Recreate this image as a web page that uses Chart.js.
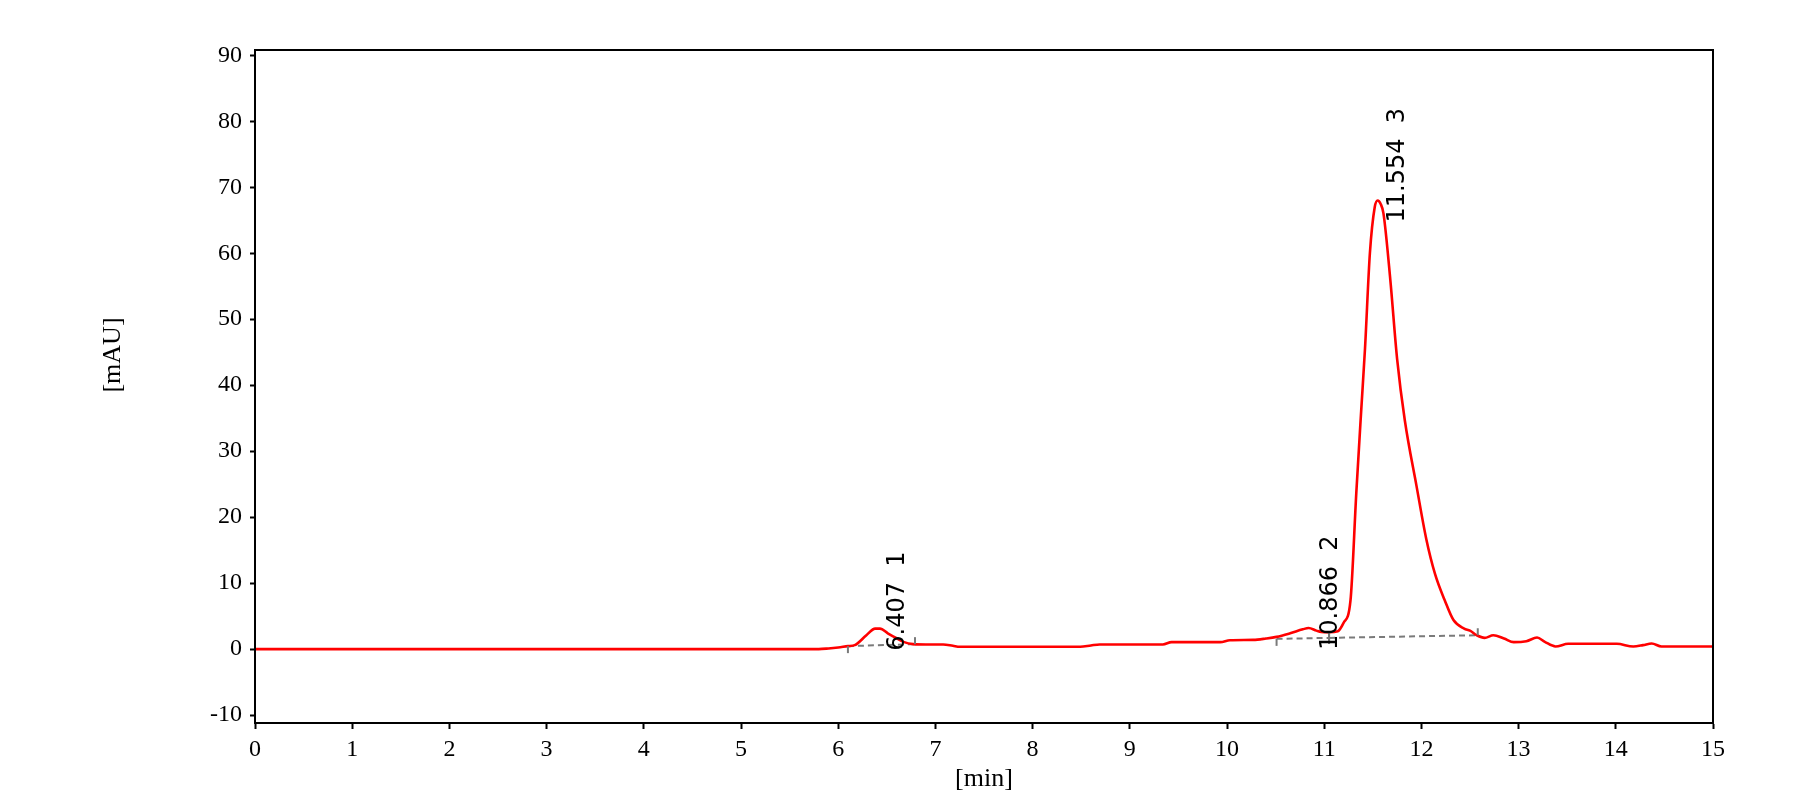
<!DOCTYPE html>
<html>
<head>
<meta charset="utf-8">
<title>HPLC chromatogram</title>
<script src="https://cdn.jsdelivr.net/npm/chart.js@4.4.1/dist/chart.umd.min.js"></script>
<style>
    html, body { margin: 0; padding: 0; background: #ffffff; }
    #wrap { width: 1812px; height: 805px; position: relative; }
</style>
</head>
<body>
<div id="wrap"><canvas id="chromChart" width="1812" height="805"></canvas></div>
<script>
const retentionTimes = [
    0, 5.8, 5.9, 6.0, 6.1, 6.17, 6.29, 6.38, 6.43, 6.51, 6.6, 6.67, 6.77, 6.9, 7.08, 7.18, 7.25,
    7.7, 8.49, 8.6, 8.69, 9.34, 9.43, 9.93, 10.03, 10.27, 10.4, 10.51, 10.65, 10.78, 10.84,
    10.92, 10.97, 11.05, 11.14, 11.2, 11.27, 11.33, 11.38, 11.42, 11.47, 11.52, 11.55, 11.58,
    11.61, 11.68, 11.75, 11.83, 11.95, 12.05, 12.14, 12.24, 12.33, 12.44, 12.5, 12.57, 12.65,
    12.74, 12.85, 12.95, 13.08, 13.19, 13.27, 13.38, 13.51, 14.01, 14.18, 14.28, 14.37, 14.47, 15
];
const signal = [
    0, 0, 0.1, 0.25, 0.45, 0.6, 2.1, 3.1, 3.1, 2.4, 1.65, 1.1, 0.75, 0.7, 0.7, 0.5, 0.35,
    0.35, 0.35, 0.55, 0.7, 0.7, 1.05, 1.05, 1.35, 1.4, 1.6, 1.85, 2.4, 3.0, 3.2,
    2.8, 2.6, 2.55, 2.7, 4.0, 7.3, 23.6, 36, 45.6, 60, 67, 68, 67.5,
    66, 56, 44, 34.6, 24.7, 16.7, 11.4, 7.4, 4.4, 3.1, 2.8, 2.1, 1.7,
    2.1, 1.6, 1.05, 1.2, 1.75, 1.1, 0.4, 0.8, 0.8, 0.4, 0.6, 0.85, 0.4, 0.4
];

// Picos integrados
const peakTimes = [6.407, 10.866, 11.554];
const peakHeights = [3.1, 3.2, 68.0];
const peakLabels = ['6.407  1', '10.866  2', '11.554  3'];

// Líneas base de integración (inicio/fin)
const baselineTimes = [[6.10, 6.79], [10.51, 11.05], [11.05, 12.58]];
const baselineValues = [[0.45, 0.75], [1.55, 1.7], [1.7, 2.1]];
const baselineTickDir = [[1, -1], [1, 0], [0, -1]]; // 1 = hacia abajo, -1 = hacia arriba, 0 = ambos

// Marcas de los ejes
const xTicks = [0, 1, 2, 3, 4, 5, 6, 7, 8, 9, 10, 11, 12, 13, 14, 15];
const yTicks = [-10, 0, 10, 20, 30, 40, 50, 60, 70, 80, 90];

const serif = '"Liberation Serif", "Times New Roman", serif';
const sans = '"DejaVu Sans", Verdana, sans-serif';

document.addEventListener('DOMContentLoaded', function() {
    initChart();
});

function initChart() {
    const ctx = document.getElementById('chromChart').getContext('2d');

    const datasets = [{
        label: 'Señal',
        data: retentionTimes.map((t, i) => ({ x: t, y: signal[i] })),
        borderColor: '#ff0000',
        borderWidth: 2.6,
        pointRadius: 0,
        cubicInterpolationMode: 'monotone',
        fill: false,
        order: 0
    }];

    baselineTimes.forEach((seg, i) => {
        datasets.push({
            label: 'Base ' + (i + 1),
            data: seg.map((t, j) => ({ x: t, y: baselineValues[i][j] })),
            borderColor: '#7a7a7a',
            borderWidth: 2,
            borderDash: [6, 4],
            pointRadius: 0,
            fill: false,
            order: 1
        });
    });

    // Marcas de fin de integración, títulos y etiquetas de picos
    const annotate = {
        id: 'annotate',
        afterDatasetsDraw(chart) {
            const c = chart.ctx;
            const xs = chart.scales.x;
            const ys = chart.scales.y;
            const area = chart.chartArea;

            c.save();
            c.strokeStyle = '#7a7a7a';
            c.lineWidth = 2;
            baselineTimes.forEach((seg, i) => {
                seg.forEach((t, j) => {
                    const px = xs.getPixelForValue(t);
                    const py = ys.getPixelForValue(baselineValues[i][j]);
                    const d = baselineTickDir[i][j];
                    c.beginPath();
                    if (d === 0) {
                        c.moveTo(px, py - 6);
                        c.lineTo(px, py + 6);
                    } else {
                        c.moveTo(px, py);
                        c.lineTo(px, py + 7 * d);
                    }
                    c.stroke();
                });
            });

            // Etiquetas de picos, giradas
            c.fillStyle = '#000000';
            c.font = '24px ' + sans;
            c.textAlign = 'left';
            c.textBaseline = 'middle';
            peakTimes.forEach((t, i) => {
                const px = xs.getPixelForValue(t) + 20;
                const py = ys.getPixelForValue(peakHeights[i]) + 22;
                c.save();
                c.translate(px, py);
                c.rotate(-Math.PI / 2);
                c.fillText(peakLabels[i], 0, 0);
                c.restore();
            });

            // Marco
            c.strokeStyle = '#000000';
            c.lineWidth = 2;
            c.strokeRect(area.left, area.top, area.right - area.left, area.bottom - area.top);

            // Títulos de ejes
            c.font = '26px ' + serif;
            c.textAlign = 'center';
            c.textBaseline = 'middle';
            c.fillText('[min]', (area.left + area.right) / 2, 779);
            c.save();
            c.translate(113, 355);
            c.rotate(-Math.PI / 2);
            c.fillText('[mAU]', 0, 0);
            c.restore();
            c.restore();
        }
    };

    new Chart(ctx, {
        type: 'line',
        data: { datasets: datasets },
        options: {
            responsive: false,
            animation: false,
            devicePixelRatio: 1,
            layout: { padding: { left: 0, top: 50, right: 99, bottom: 0 } },
            plugins: {
                legend: { display: false },
                tooltip: { enabled: false }
            },
            scales: {
                x: {
                    type: 'linear',
                    min: 0,
                    max: 15,
                    afterBuildTicks: function(scale) {
                        scale.ticks = xTicks.map(v => ({ value: v }));
                    },
                    afterFit: function(scale) { scale.height = 82; },
                    grid: {
                        drawOnChartArea: false,
                        drawTicks: true,
                        tickLength: 6,
                        tickWidth: 2,
                        color: '#000000'
                    },
                    border: { display: true, color: '#000000', width: 2 },
                    ticks: {
                        color: '#000000',
                        padding: 6,
                        maxRotation: 0,
                        autoSkip: false,
                        font: { family: serif, size: 24 }
                    }
                },
                y: {
                    type: 'linear',
                    min: -11.2,
                    max: 90.8,
                    afterBuildTicks: function(scale) {
                        scale.ticks = yTicks.map(v => ({ value: v }));
                    },
                    afterFit: function(scale) { scale.width = 255; },
                    grid: {
                        drawOnChartArea: false,
                        drawTicks: true,
                        tickLength: 5,
                        tickWidth: 2,
                        color: '#000000'
                    },
                    border: { display: true, color: '#000000', width: 2 },
                    ticks: {
                        color: '#000000',
                        padding: 8,
                        autoSkip: false,
                        font: { family: serif, size: 24 }
                    }
                }
            }
        },
        plugins: [annotate]
    });
}
</script>
</body>
</html>
